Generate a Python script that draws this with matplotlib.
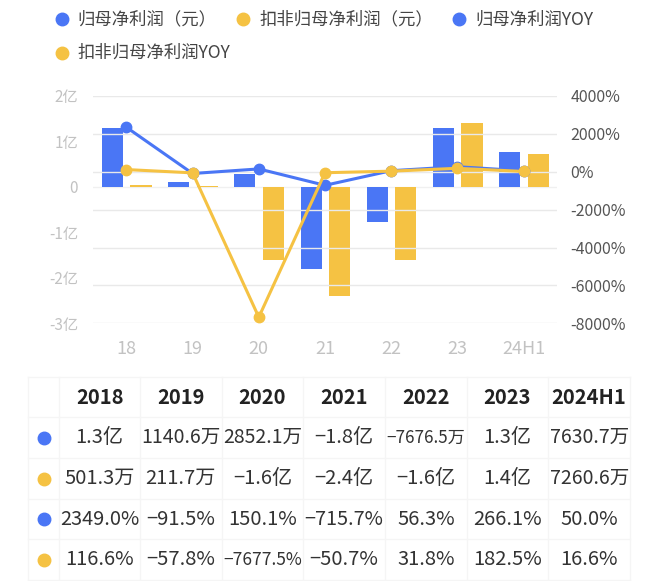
import numpy as np
import matplotlib.pyplot as plt

plt.rcParams['font.family'] = ['Noto Sans CJK SC', 'DejaVu Sans']

# data
periods = ["18", "19", "20", "21", "22", "23", "24H1"]
table_headers = ["2018", "2019", "2020", "2021", "2022", "2023", "2024H1"]
net_profit = [1.3e8, 1140.6e4, 2852.1e4, -1.8e8, -7676.5e4, 1.3e8, 7630.7e4]
deducted_profit = [501.3e4, 211.7e4, -1.6e8, -2.4e8, -1.6e8, 1.4e8, 7260.6e4]
net_yoy = [2349.0, -91.5, 150.1, -715.7, 56.3, 266.1, 50.0]
deducted_yoy = [116.6, -57.8, -7677.5, -50.7, 31.8, 182.5, 16.6]
legend_labels = ["归母净利润（元）", "扣非归母净利润（元）", "归母净利润YOY", "扣非归母净利润YOY"]

BLUE = "#4A76F5"
YELLOW = "#F5C243"
W, H = 660, 581


def fmt_money(v):
    if abs(v) >= 1e8:
        s = f"{v / 1e8:.1f}亿"
    else:
        s = f"{v / 1e4:.1f}万"
    return s.replace("-", "−")


def fmt_pct(v):
    return f"{v:.1f}%".replace("-", "−")


fig = plt.figure(figsize=(W / 100, H / 100), dpi=100)

# main chart
ax = fig.add_axes([93.3 / W, 1 - 323.3 / H, (556.7 - 93.3) / W, (323.3 - 96) / H])
ax2 = ax.twinx()
x = np.arange(len(periods))
bw = 0.32
ax.bar(x - 0.21, net_profit, bw, color=BLUE, zorder=2)
ax.bar(x + 0.22, deducted_profit, bw, color=YELLOW, zorder=2)
ax.axhline(0, color="#f0f0f0", lw=1, zorder=1)
ax.set_ylim(-3e8, 2e8)
ax.set_yticks(np.arange(-3e8, 2.1e8, 1e8))
ax.set_yticklabels(["-3亿", "-2亿", "-1亿", "0", "1亿", "2亿"])
ax.set_xlim(-0.5, len(periods) - 0.5)
ax.set_xticks(x)
ax.set_xticklabels(periods)
ax.tick_params(axis="y", length=0, pad=11, labelsize=11, labelcolor="#c2c2c2")
ax.tick_params(axis="x", length=0, pad=12, labelsize=13, labelcolor="#c2c2c2")

ax2.set_ylim(-8000, 4000)
ax2.set_yticks(np.arange(-8000, 4001, 2000))
ax2.set_yticklabels([f"{t}%" for t in range(-8000, 4001, 2000)])
ax2.tick_params(axis="y", length=0, pad=10, labelsize=11.5, labelcolor="#555555")
ax2.grid(axis="y", color="#e9e9e9", lw=1, zorder=0)
ax2.plot(x, net_yoy, color=BLUE, lw=2.2, marker="o", ms=7.5, zorder=3)
ax2.plot(x, deducted_yoy, color=YELLOW, lw=2.2, marker="o", ms=7.5, zorder=4)
ax2.set_xlim(-0.5, len(periods) - 0.5)
ax.set_zorder(ax2.get_zorder() - 1)
ax.patch.set_visible(False)
ax2.patch.set_visible(False)
for a in (ax, ax2):
    for sp in a.spines.values():
        sp.set_visible(False)

# overlay in pixel coordinates for legend and table
ov = fig.add_axes([0, 0, 1, 1])
ov.set_xlim(0, W)
ov.set_ylim(H, 0)
ov.axis("off")
ov.patch.set_visible(False)

legend_pos = [(61.7, 19.3), (243.3, 19.3), (459.3, 19.3), (61.7, 52.7)]
legend_cols = [BLUE, YELLOW, BLUE, YELLOW]
for (lx, ly), lab, c in zip(legend_pos, legend_labels, legend_cols):
    ov.plot([lx], [ly], "o", color=c, ms=9)
    ov.text(lx + 16, ly, lab, fontsize=12.5, color="#444444", va="center", ha="left")

# table
col_edges = [28.3, 59.3, 140, 221.7, 303.3, 385, 466.7, 548.3, 630]
row_edges = [376.7, 417.3, 458.3, 499.3, 539.3, 580]
grid_c = "#f5f5f5"
for xe in col_edges:
    ov.plot([xe, xe], [row_edges[0], row_edges[-1]], color=grid_c, lw=1)
for ye in row_edges:
    ov.plot([col_edges[0], col_edges[-1]], [ye, ye], color=grid_c, lw=1)

fig.canvas.draw()
renderer = fig.canvas.get_renderer()


def cell_text(cx, cy, s, size, color, weight="normal", max_w=79):
    t = ov.text(cx, cy, s, fontsize=size, color=color, ha="center", va="center",
                fontweight=weight)
    wpx = t.get_window_extent(renderer).width
    if wpx > max_w:
        t.set_fontsize(size * max_w / wpx)
    return t


centers_x = [(a + b) / 2 for a, b in zip(col_edges[1:-1], col_edges[2:])]
row_cy = [(a + b) / 2 for a, b in zip(row_edges[:-1], row_edges[1:])]
for cx, h in zip(centers_x, table_headers):
    cell_text(cx, row_cy[0], h, 14.5, "#222222", weight="bold")

rows = [
    ([fmt_money(v) for v in net_profit], BLUE),
    ([fmt_money(v) for v in deducted_profit], YELLOW),
    ([fmt_pct(v) for v in net_yoy], BLUE),
    ([fmt_pct(v) for v in deducted_yoy], YELLOW),
]
for cy, (vals, c) in zip(row_cy[1:], rows):
    ov.plot([43.5], [cy], "o", color=c, ms=9)
    for cx, s in zip(centers_x, vals):
        cell_text(cx, cy, s, 14.5, "#333333")

fig.savefig("out.png", dpi=100)
